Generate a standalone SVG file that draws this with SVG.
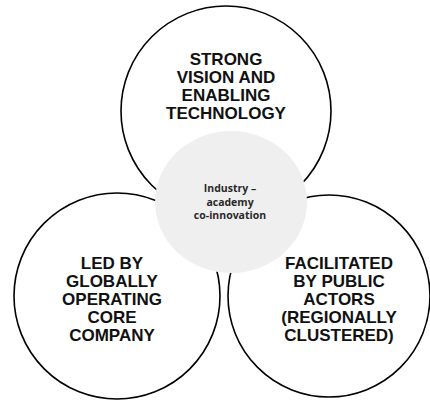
<svg xmlns="http://www.w3.org/2000/svg" width="430" height="401" viewBox="0 0 430 401">
<style>
.ring{fill:none;stroke:#000;stroke-width:1.6}
.big{font-family:"Liberation Sans",Arial,sans-serif;font-weight:bold;font-size:17px;fill:#111;text-anchor:middle}
.small{font-family:"Open Sans","Noto Sans",sans-serif;font-weight:bold;font-size:10.5px;fill:#2a2a2a;text-anchor:middle}
</style>
<rect width="430" height="401" fill="#fff"/>
<g id="top">
<circle class="ring" cx="226" cy="111" r="105"/>
<text class="big"><tspan x="226" y="65">STRONG</tspan><tspan x="226" y="83">VISION AND</tspan><tspan x="226" y="101">ENABLING</tspan><tspan x="226" y="119">TECHNOLOGY</tspan></text>
</g>
<g id="left">
<circle class="ring" cx="117" cy="296" r="103"/>
<text class="big"><tspan x="112" y="269">LED BY</tspan><tspan x="112" y="287">GLOBALLY</tspan><tspan x="112" y="305">OPERATING</tspan><tspan x="112" y="323">CORE</tspan><tspan x="112" y="341">COMPANY</tspan></text>
</g>
<g id="right">
<circle class="ring" cx="329" cy="296" r="101"/>
<text class="big"><tspan x="339" y="269">FACILITATED</tspan><tspan x="339" y="287">BY PUBLIC</tspan><tspan x="339" y="305">ACTORS</tspan><tspan x="339" y="323">(REGIONALLY</tspan><tspan x="339" y="341">CLUSTERED)</tspan></text>
</g>
<g id="center">
<ellipse cx="231" cy="202" rx="76" ry="71" fill="#efefef"/>
<text class="small"><tspan x="230" y="192">Industry –</tspan><tspan x="230" y="205.5">academy</tspan><tspan x="230" y="219">co-innovation</tspan></text>
</g>
<g id="connectors"/>
</svg>
